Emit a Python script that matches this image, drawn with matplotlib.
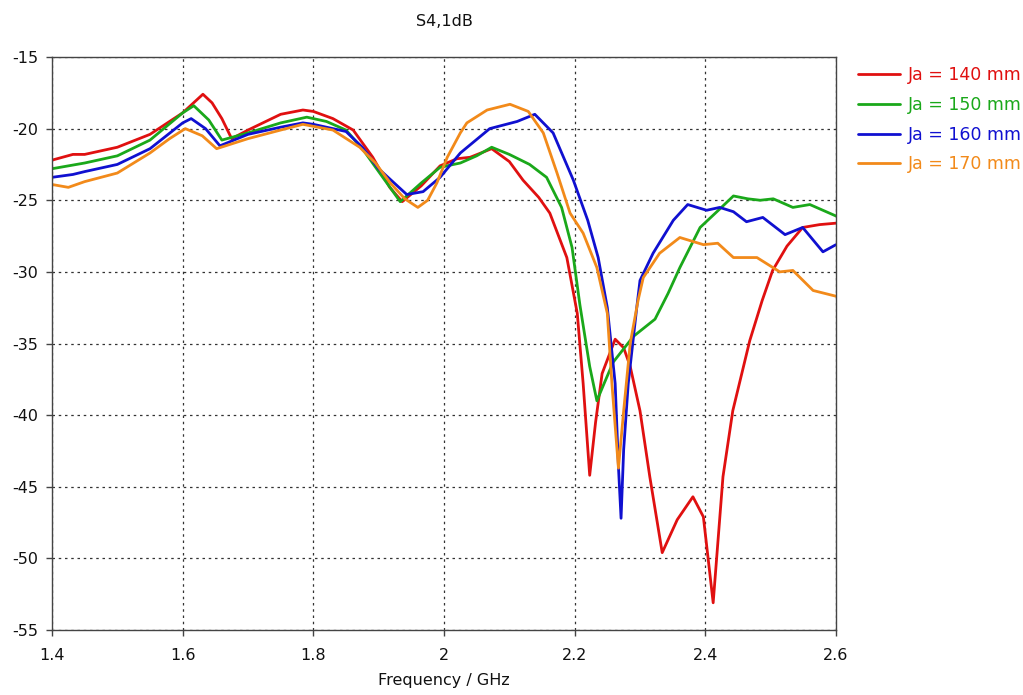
import matplotlib
matplotlib.use("Agg")
import matplotlib.pyplot as plt

# ---- data ----
f140 = [1.40, 1.432, 1.45, 1.50, 1.55, 1.60, 1.631, 1.645, 1.66, 1.675, 1.70, 1.75, 1.784, 1.80, 1.83, 1.861, 1.891,
        1.917, 1.936, 1.965, 1.994, 2.02, 2.04, 2.073, 2.10, 2.121, 2.145, 2.162, 2.188, 2.204, 2.213, 2.223,
        2.232, 2.242, 2.262, 2.275, 2.285, 2.30, 2.315, 2.334, 2.357, 2.381, 2.397, 2.412, 2.427, 2.442,
        2.468, 2.487, 2.503, 2.525, 2.549, 2.575, 2.60]
s140 = [-22.2, -21.8, -21.8, -21.3, -20.4, -18.9, -17.6, -18.2, -19.3, -20.7, -20.1, -19.0, -18.7, -18.8, -19.3,
        -20.1, -22.0, -24.1, -25.1, -24.0, -22.6, -22.1, -22.0, -21.4, -22.3, -23.6, -24.8, -25.9, -29.0,
        -32.9, -37.8, -44.2, -40.5, -37.1, -34.7, -35.3, -36.6, -39.7, -44.3, -49.6, -47.3, -45.7, -47.1,
        -53.1, -44.3, -39.7, -34.8, -32.0, -29.9, -28.2, -26.9, -26.7, -26.6]

f150 = [1.40, 1.45, 1.50, 1.55, 1.60, 1.617, 1.64, 1.66, 1.70, 1.75, 1.79, 1.82, 1.85, 1.875, 1.90, 1.933,
        1.965, 1.994, 2.025, 2.05, 2.073, 2.10, 2.131, 2.157, 2.18, 2.196, 2.208, 2.223, 2.234, 2.245, 2.259,
        2.29, 2.323, 2.343, 2.361, 2.392, 2.42, 2.443, 2.465, 2.484, 2.504, 2.534, 2.56, 2.60]
s150 = [-22.8, -22.4, -21.9, -20.8, -18.9, -18.4, -19.4, -20.8, -20.3, -19.6, -19.2, -19.5, -20.1, -21.4, -23.0,
        -25.1, -23.8, -22.7, -22.4, -21.9, -21.3, -21.8, -22.5, -23.4, -25.5, -28.3, -32.3, -36.6, -39.0,
        -37.8, -36.3, -34.5, -33.3, -31.5, -29.7, -26.9, -25.7, -24.7, -24.9, -25.0, -24.9, -25.5, -25.3, -26.1]

f160 = [1.40, 1.432, 1.45, 1.50, 1.55, 1.60, 1.613, 1.635, 1.657, 1.70, 1.75, 1.784, 1.80, 1.85, 1.875, 1.90,
        1.943, 1.968, 1.994, 2.025, 2.07, 2.112, 2.139, 2.167, 2.198, 2.22, 2.236, 2.25, 2.262, 2.267, 2.271,
        2.275, 2.282, 2.295, 2.30, 2.32, 2.351, 2.373, 2.402, 2.422, 2.443, 2.463, 2.488, 2.522, 2.549,
        2.58, 2.60]
s160 = [-23.4, -23.2, -23.0, -22.5, -21.4, -19.6, -19.3, -20.0, -21.2, -20.4, -19.9, -19.6, -19.7, -20.2, -21.3,
        -22.8, -24.6, -24.4, -23.4, -21.7, -20.0, -19.5, -19.0, -20.3, -23.6, -26.4, -29.0, -32.5, -37.8,
        -43.6, -47.2, -42.4, -37.8, -32.5, -30.6, -28.7, -26.4, -25.3, -25.7, -25.5, -25.8, -26.5, -26.2,
        -27.4, -26.9, -28.6, -28.1]

f170 = [1.40, 1.425, 1.45, 1.50, 1.55, 1.58, 1.604, 1.63, 1.652, 1.70, 1.75, 1.784, 1.83, 1.871, 1.895, 1.918,
        1.94, 1.96, 1.975, 1.989, 2.005, 2.025, 2.035, 2.066, 2.101, 2.129, 2.152, 2.173, 2.193, 2.213, 2.234,
        2.25, 2.257, 2.267, 2.275, 2.285, 2.297, 2.305, 2.33, 2.361, 2.397, 2.419, 2.443, 2.479, 2.514,
        2.534, 2.565, 2.60]
s170 = [-23.9, -24.1, -23.7, -23.1, -21.7, -20.7, -20.0, -20.5, -21.4, -20.7, -20.1, -19.7, -20.1, -21.3, -22.4,
        -23.8, -24.9, -25.5, -25.0, -23.8, -22.0, -20.3, -19.6, -18.7, -18.3, -18.8, -20.3, -23.1, -25.9,
        -27.3, -29.7, -32.9, -37.8, -43.7, -39.7, -35.0, -32.0, -30.4, -28.7, -27.6, -28.1, -28.0, -29.0,
        -29.0, -30.0, -29.9, -31.3, -31.7]

labels = ["Ja = 140 mm", "Ja = 150 mm", "Ja = 160 mm", "Ja = 170 mm"]
colors = ["#e01010", "#1aa81a", "#1010d0", "#f28a1a"]

xticks = [1.4, 1.6, 1.8, 2.0, 2.2, 2.4, 2.6]
xticklabels = ["1.4", "1.6", "1.8", "2", "2.2", "2.4", "2.6"]
yticks = [-15, -20, -25, -30, -35, -40, -45, -50, -55]

plt.rcParams['font.family'] = ['DejaVu Sans']
plt.rcParams['axes.unicode_minus'] = False
fig = plt.figure(figsize=(10.23, 6.95), dpi=100)
ax = fig.add_axes([52/1023, (695-630)/695, (836-52)/1023, (630-57)/695])

series = [(f140, s140), (f150, s150), (f160, s160), (f170, s170)]
for (f, s), c, lab in zip(series, colors, labels):
    ax.plot(f, s, color=c, lw=2.0, label=lab, solid_joinstyle='round', solid_capstyle='round')

ax.set_xlim(1.4, 2.6)
ax.set_ylim(-55, -15)
ax.set_xticks(xticks)
ax.set_xticklabels(xticklabels)
ax.set_yticks(yticks)
ax.tick_params(direction='out', length=4, width=1.0, color='#444444', labelsize=11.5, labelcolor='#111111')
ax.tick_params(axis='x', pad=9)
ax.tick_params(axis='y', pad=6)
ax.grid(True, color='#333333', linestyle=(0, (2, 3)), linewidth=0.9)
for sp in ax.spines.values():
    sp.set_color('#444444')
    sp.set_linewidth(1.0)
ax.set_xlabel("Frequency / GHz", fontsize=11.5, labelpad=7, color='#111111')
ax.set_title("S4,1dB", fontsize=11.5, pad=22, color='#111111')

leg = ax.legend(loc='upper left', bbox_to_anchor=(858/1023, (695-66)/695),
                bbox_transform=fig.transFigure, frameon=False, borderpad=0, borderaxespad=0,
                fontsize=12.5, handlelength=2.4, handletextpad=0.45, labelspacing=0.68)
for txt, c in zip(leg.get_texts(), colors):
    txt.set_color(c)

fig.savefig("out.png", dpi=100)
